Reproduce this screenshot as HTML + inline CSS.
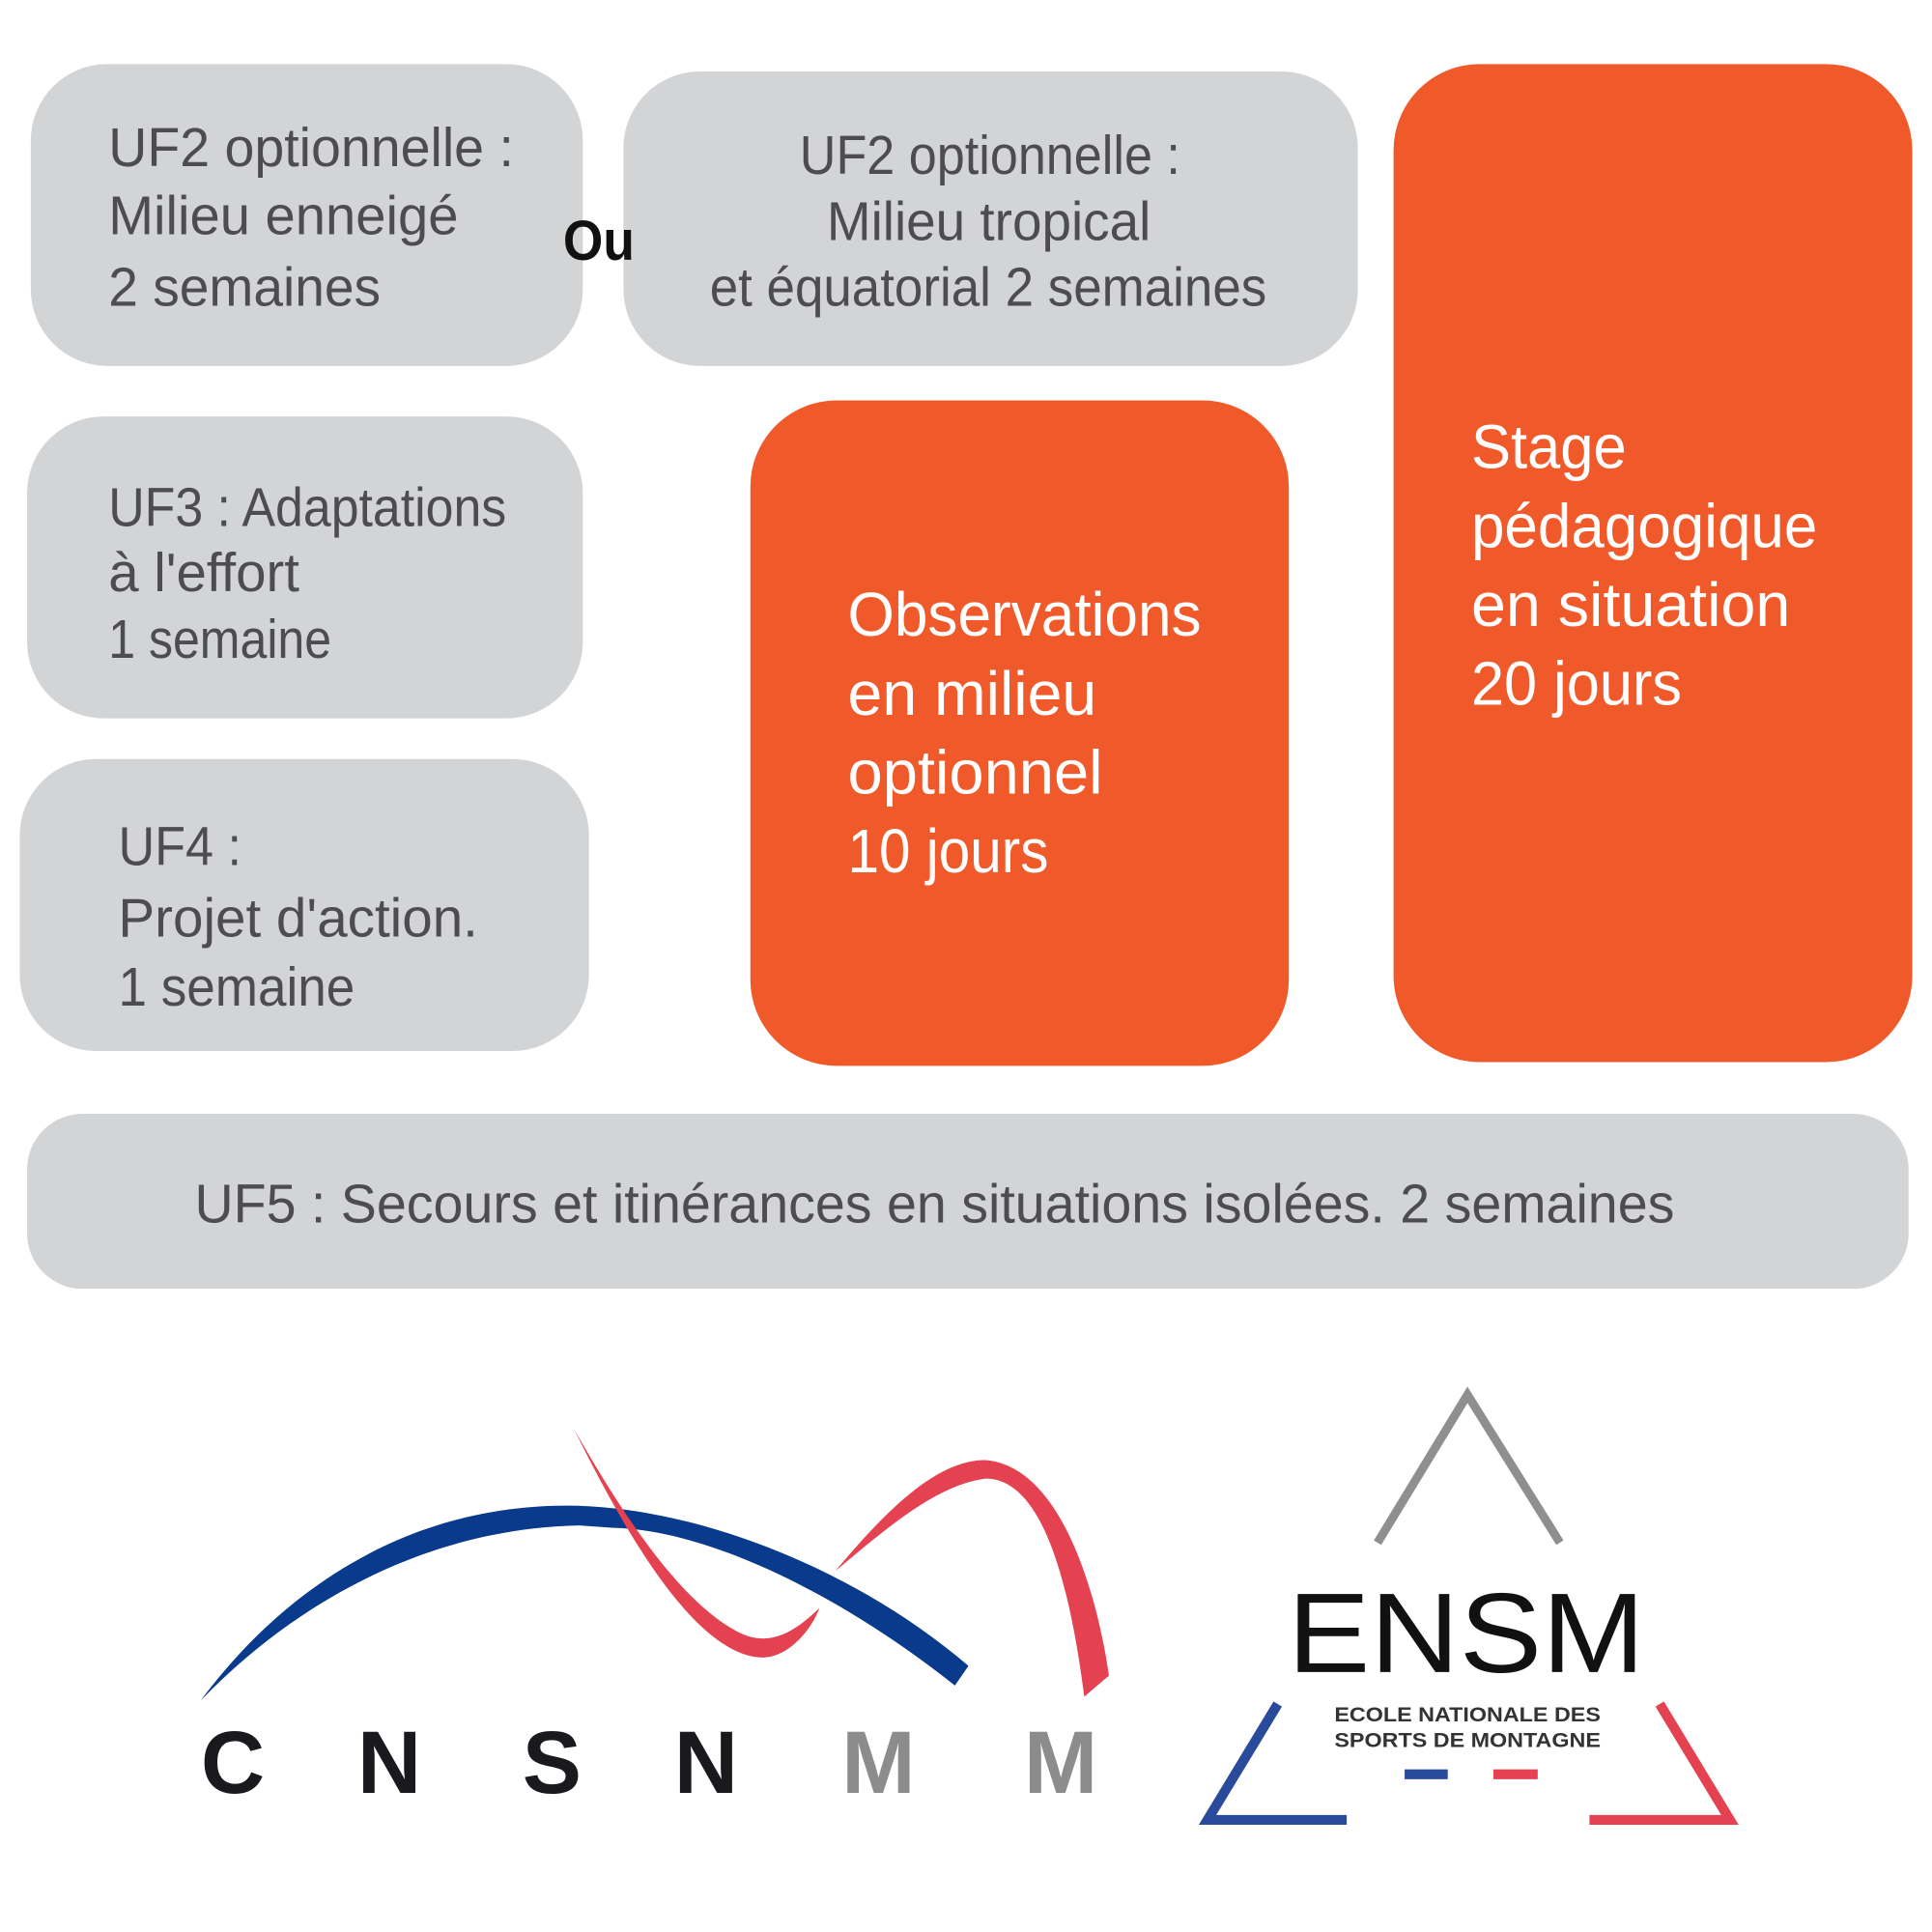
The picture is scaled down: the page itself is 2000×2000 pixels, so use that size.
<!DOCTYPE html>
<html><head><meta charset="utf-8"><style>
html,body{margin:0;padding:0;background:#fff}
svg{display:block}
text{font-family:"Liberation Sans Narrow","Liberation Sans",sans-serif}
</style></head><body>
<svg width="2000" height="2000" viewBox="0 0 1568 1568" xmlns="http://www.w3.org/2000/svg">
<rect width="1568" height="1568" fill="#fff"/>
<g fill="#d3d4d6">
<rect x="25" y="52" width="448" height="245" rx="62"/>
<rect x="506" y="58" width="596" height="239" rx="62"/>
<rect x="22" y="338" width="451" height="245" rx="62"/>
<rect x="16" y="616" width="462" height="237" rx="62"/>
<rect x="22" y="904" width="1527" height="142" rx="45"/>
</g>
<g fill="#f05a2a">
<rect x="609" y="325" width="437" height="540" rx="70"/>
<rect x="1131" y="52" width="421" height="810" rx="70"/>
</g>
<g fill="#4d4d4f" font-size="44">
<text x="88" y="135" textLength="329" lengthAdjust="spacingAndGlyphs">UF2 optionnelle :</text>
<text x="88" y="190" textLength="284" lengthAdjust="spacingAndGlyphs">Milieu enneigé</text>
<text x="88" y="248" textLength="221" lengthAdjust="spacingAndGlyphs">2 semaines</text>
<text x="649" y="141" textLength="309" lengthAdjust="spacingAndGlyphs">UF2 optionnelle :</text>
<text x="671" y="195" textLength="263" lengthAdjust="spacingAndGlyphs">Milieu tropical</text>
<text x="576" y="248" textLength="452" lengthAdjust="spacingAndGlyphs">et équatorial 2 semaines</text>
<text x="88" y="427" textLength="323" lengthAdjust="spacingAndGlyphs">UF3 : Adaptations</text>
<text x="88" y="480" textLength="155" lengthAdjust="spacingAndGlyphs">à l'effort</text>
<text x="88" y="534" textLength="181" lengthAdjust="spacingAndGlyphs">1 semaine</text>
<text x="96" y="702" textLength="100" lengthAdjust="spacingAndGlyphs">UF4 :</text>
<text x="96" y="760" textLength="292" lengthAdjust="spacingAndGlyphs">Projet d'action.</text>
<text x="96" y="816" textLength="192" lengthAdjust="spacingAndGlyphs">1 semaine</text>
<text x="158" y="992" textLength="1201" lengthAdjust="spacingAndGlyphs">UF5 : Secours et itinérances en situations isolées. 2 semaines</text>
</g>
<text x="457" y="211" font-size="46" font-weight="bold" fill="#111" textLength="58" lengthAdjust="spacingAndGlyphs">Ou</text>
<g fill="#fff" font-size="50">
<text x="688" y="516" textLength="287" lengthAdjust="spacingAndGlyphs">Observations</text>
<text x="688" y="580" textLength="202" lengthAdjust="spacingAndGlyphs">en milieu</text>
<text x="688" y="644" textLength="207" lengthAdjust="spacingAndGlyphs">optionnel</text>
<text x="688" y="708" textLength="163" lengthAdjust="spacingAndGlyphs">10 jours</text>
<text x="1194" y="380" textLength="126" lengthAdjust="spacingAndGlyphs">Stage</text>
<text x="1194" y="444" textLength="281" lengthAdjust="spacingAndGlyphs">pédagogique</text>
<text x="1194" y="508" textLength="259" lengthAdjust="spacingAndGlyphs">en situation</text>
<text x="1194" y="572" textLength="171" lengthAdjust="spacingAndGlyphs">20 jours</text>
</g>
<!-- CNSNMM logo -->
<path d="M163 1380 C230 1290 330 1222 460 1222 C560 1222 690 1270 786 1352 L775 1368 C690 1300 580 1242 498 1240 L470 1238 C360 1240 250 1290 163 1380 Z" fill="#0a3a8c"/>
<path d="M466 1160 C520 1270 570 1340 615 1345 C640 1348 660 1320 665 1305 C640 1330 620 1335 600 1325 C550 1300 500 1220 466 1160 Z" fill="#e44250"/>
<path d="M678 1275 C720 1225 760 1185 800 1185 C860 1190 890 1290 900 1360 L880 1377 C870 1300 850 1200 800 1200 C760 1205 720 1240 678 1275 Z" fill="#e44250"/>
<g font-family="Liberation Sans" font-weight="bold" font-size="72">
<text x="163" y="1455" fill="#1a1a1e">C</text>
<text x="290" y="1455" fill="#1a1a1e">N</text>
<text x="424" y="1455" fill="#1a1a1e">S</text>
<text x="547" y="1455" fill="#1a1a1e">N</text>
<text x="683" y="1455" fill="#8c8c8c">M</text>
<text x="831" y="1455" fill="#8c8c8c">M</text>
</g>
<!-- ENSM logo -->
<polyline points="1118,1252 1191,1132 1266,1252" fill="none" stroke="#8f8f8f" stroke-width="7"/>
<text x="1190" y="1357" text-anchor="middle" font-family="Liberation Sans" font-size="92" fill="#111" textLength="290" lengthAdjust="spacingAndGlyphs">ENSM</text>
<text x="1191" y="1397" text-anchor="middle" font-family="Liberation Sans" font-weight="bold" font-size="17" fill="#333" textLength="216" lengthAdjust="spacingAndGlyphs">ECOLE NATIONALE DES</text>
<text x="1191" y="1418" text-anchor="middle" font-family="Liberation Sans" font-weight="bold" font-size="17" fill="#333" textLength="216" lengthAdjust="spacingAndGlyphs">SPORTS DE MONTAGNE</text>
<rect x="1140" y="1436" width="35" height="8" fill="#2a4a9c"/>
<rect x="1212" y="1436" width="36" height="8" fill="#e44250"/>
<polyline points="1037,1383 980,1477 1093,1477" fill="none" stroke="#2a4a9c" stroke-width="8"/>
<polyline points="1347,1383 1404,1477 1290,1477" fill="none" stroke="#e44250" stroke-width="8"/>
</svg>
</body></html>
